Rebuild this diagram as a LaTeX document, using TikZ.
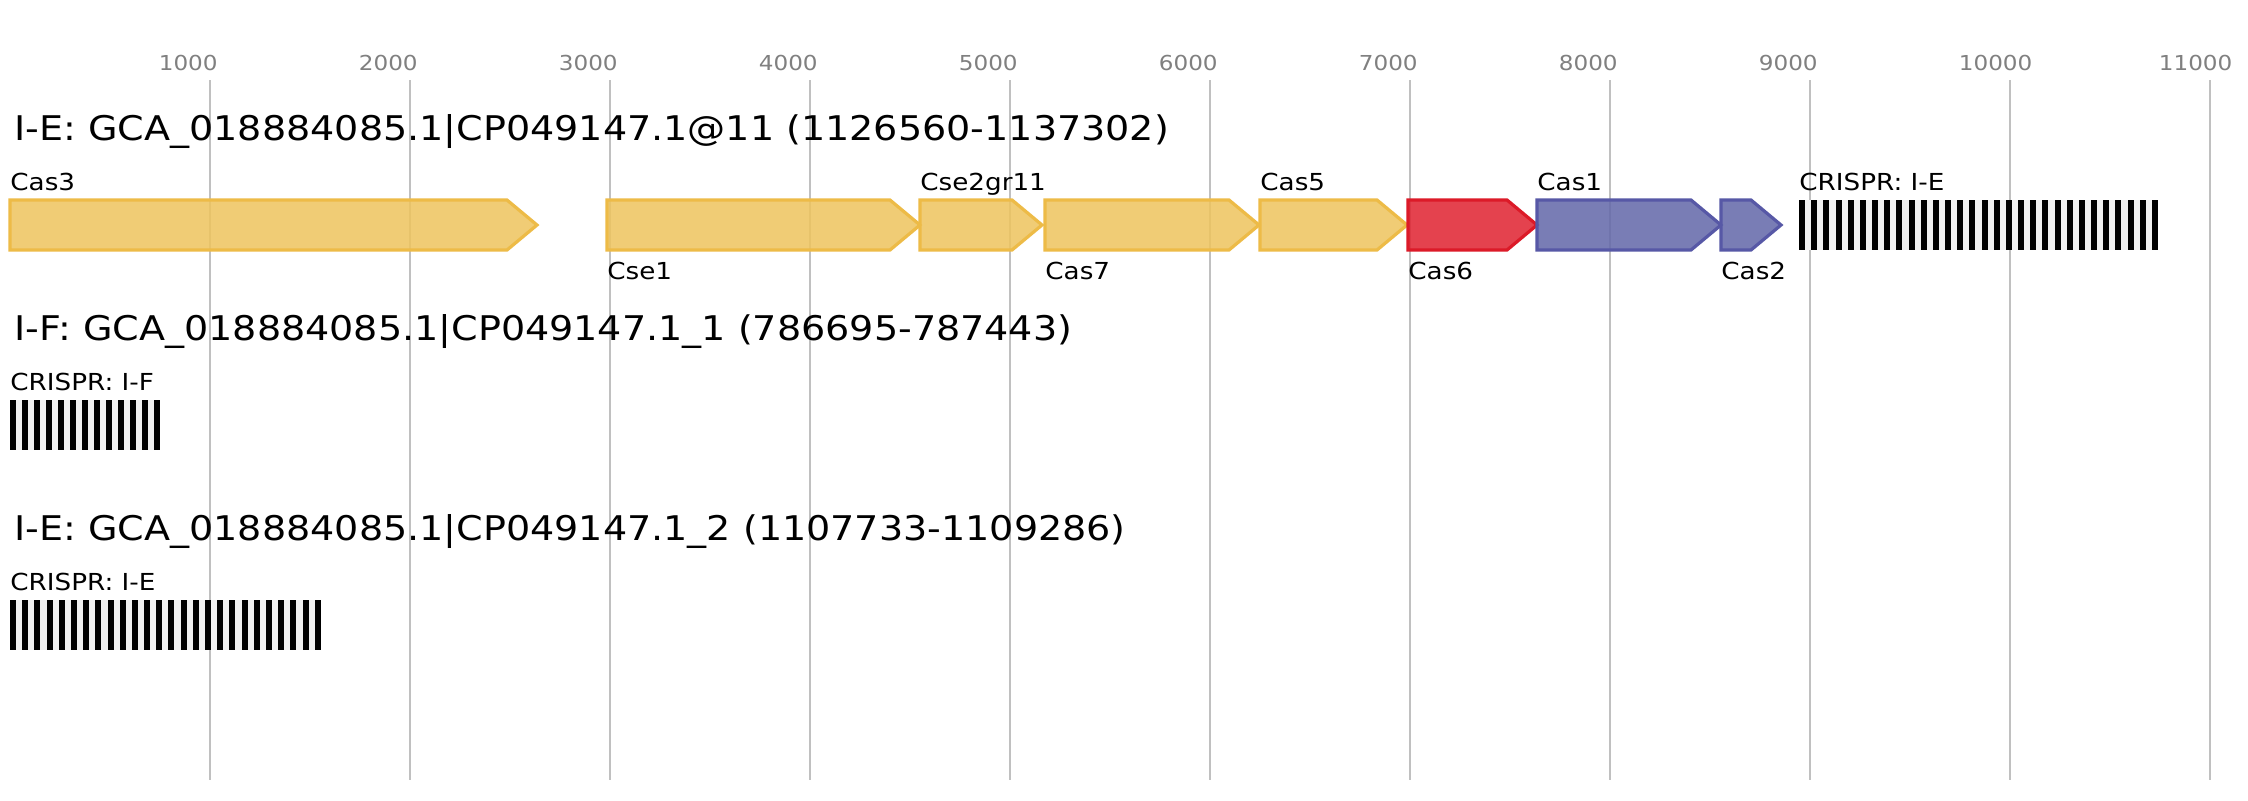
\documentclass[tikz,border=0pt]{standalone}
\usepackage{fontspec}
\setmainfont[FakeStretch=1.12]{DejaVu Sans}
\usepackage{xcolor}
\usetikzlibrary{positioning}
\definecolor{gridgrey}{HTML}{C0C0C0}
\definecolor{tickgrey}{HTML}{808080}
\definecolor{spacergrey}{HTML}{F0F0F0}
\definecolor{casgoldfill}{HTML}{EEC45D}
\definecolor{casgoldline}{HTML}{EDBB47}
\definecolor{casredfill}{HTML}{E02230}
\definecolor{casredline}{HTML}{DC1A28}
\definecolor{casbluefill}{HTML}{6267A9}
\definecolor{casblueline}{HTML}{5758A6}

\begin{document}
\begin{tikzpicture}[x=0.5pt, y=-0.5pt,
  gene/.style={line width=1.6pt, line join=miter, fill opacity=0.85},
  casgold/.style={fill=casgoldfill, draw=casgoldline},
  casred/.style={fill=casredfill, draw=casredline},
  casblue/.style={fill=casbluefill, draw=casblueline},
  genelabel/.style={anchor=base west, inner sep=0pt, font=\fontsize{11.7}{14}\selectfont},
  tracktitle/.style={anchor=base west, inner sep=0pt, font=\fontsize{17}{20}\selectfont},
  ticklabel/.style={anchor=base west, inner sep=0pt, text=tickgrey, font=\fontsize{10.3}{12}\selectfont}]
  % Canvas
  \fill[white] (0,0) rectangle (2248,800);
  \useasboundingbox (0,0) rectangle (2248,800);
  % Scale: 200 px per 1000 bp
  \foreach \k in {1,...,11} {
    \draw[gridgrey, line width=1pt] (9.5+200*\k,80) -- (9.5+200*\k,780);
    \node[ticklabel] (tick\k) at (9.5+200*\k-51,70) {\k000};
  }
  % Track titles
  \node[tracktitle] (titleA) at (14,140) {I-E: GCA\_018884085.1|CP049147.1@11 (1126560-1137302)};
  \node[tracktitle] (titleB) at (14,340) {I-F: GCA\_018884085.1|CP049147.1\_1 (786695-787443)};
  \node[tracktitle] (titleC) at (14,540) {I-E: GCA\_018884085.1|CP049147.1\_2 (1107733-1109286)};
  % Cas genes of the first locus
  \foreach \s/\e/\ly/\nm/\lab/\c in {10/537/190/cas3/Cas3/casgold,
      607/920/279/cse1/Cse1/casgold,
      920/1042/190/cse2/Cse2gr11/casgold,
      1045/1259/279/cas7/Cas7/casgold,
      1260/1407/190/cas5/Cas5/casgold,
      1408/1537/279/cas6/Cas6/casred,
      1537/1721/190/cas1/Cas1/casblue,
      1721/1781/279/cas2/Cas2/casblue} {
    \filldraw[gene, \c] (\s,200) -- (\e-30,200) -- (\e,225) -- (\e-30,250) -- (\s,250) -- cycle;
    \node[genelabel] (\nm) at (\s,\ly) {\lab};
  }
  % CRISPR arrays (start, repeats, period, top)
  \foreach \x/\n/\p/\y/\nm/\lab in {1799/30/12.17/200/crisprA/{CRISPR: I-E},
      10/13/12.0/400/crisprB/{CRISPR: I-F},
      10/26/12.19/600/crisprC/{CRISPR: I-E}} {
    \fill[spacergrey] (\x,\y) rectangle ++(\n*\p-\p+6,50);
    \foreach \i in {1,...,\n}
      \fill[black] (\x+\i*\p-\p,\y) rectangle ++(6,50);
    \node[genelabel] (\nm) at (\x,\y-10) {\lab};
  }
\end{tikzpicture}
\end{document}
